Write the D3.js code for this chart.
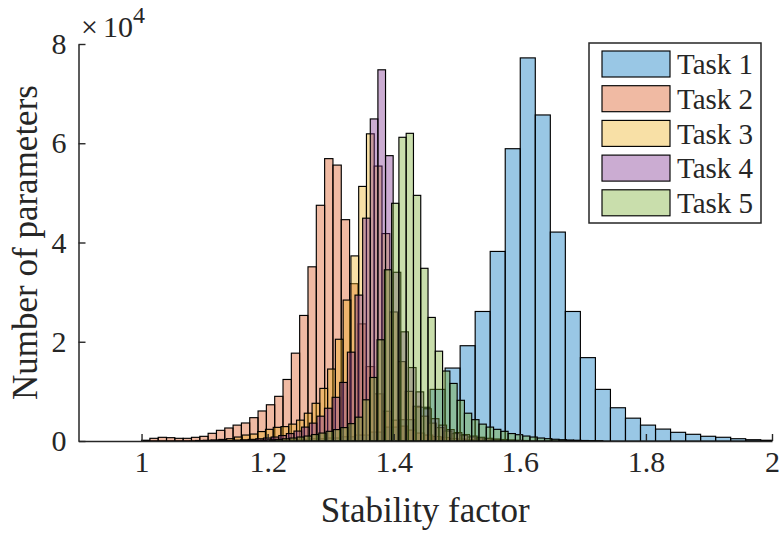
<!DOCTYPE html>
<html>
<head>
<meta charset="utf-8">
<script src="https://cdn.jsdelivr.net/npm/d3@7"></script>
<style>
body { margin: 0; background: #fff; }
text { font-family: "Liberation Serif", "Times New Roman", serif; fill: #262626; }
</style>
</head>
<body>
<script>
// histogram counts per task, each with its own bin start and bin width
var taskNames = ["Task 1", "Task 2", "Task 3", "Task 4", "Task 5"];
var taskColors = ["#0072BD", "#D95319", "#EDB120", "#7E2F8E", "#77AC30"];

var task1Start = 1.0047, task1Width = 0.02384;
var task1Counts = [20, 30, 40, 50, 70, 90, 120, 160, 200, 260, 340, 450, 600, 850, 1200, 1800, 2800, 4300, 6800, 10400,
  14700, 19200, 26100, 38200, 58900, 77200, 65700, 42100, 26100, 16800, 10400, 6700, 4600, 3200, 2400, 1750, 1350, 950, 750, 460, 260, 150];

var task2Start = 1.0, task2Width = 0.0132;
var task2Counts = [150, 540, 740, 670, 540, 540, 740, 940, 1550, 2150, 2620, 3200, 3630, 4700, 6050, 7300, 9000, 12400, 17700, 25300,
  35100, 47500, 56900, 55600, 44600, 31700, 23600, 15000, 9500, 6000, 4200, 3000, 2200, 1600, 1200, 900, 700, 500, 400, 300, 220, 160, 120, 80, 50];

var task3Start = 1.0857, task3Width = 0.01232;
var task3Counts = [100, 150, 220, 320, 470, 800, 1200, 1400, 1900, 2350, 2750, 2900, 3400, 4200, 5600, 7600, 10600, 14500, 20500, 28400, 37300, 51300,
  61900, 55400, 41800, 26000, 16000, 10000, 7000, 5000, 3600, 2700, 2000, 1500, 1100, 800, 600, 450, 300, 200, 150, 100];

var task4Start = 1.1087, task4Width = 0.0121;
var task4Counts = [50, 80, 120, 170, 240, 330, 450, 600, 800, 1100, 1500, 2000, 2800, 3600, 5000, 6600, 8800, 11800, 17900, 29400, 44900, 64900,
  74800, 57500, 34000, 22000, 14800, 9900, 6500, 4500, 3200, 2300, 1700, 1300, 1000, 750, 550, 400, 300, 200, 150, 100];

var task5Start = 1.1541, task5Width = 0.01155;
var task5Counts = [50, 80, 120, 170, 240, 330, 450, 600, 800, 1000, 1300, 1600, 1950, 2300, 2700, 3500, 4800, 8300, 12800, 20400, 34500, 47900,
  61200, 62000, 49500, 34800, 24900, 18100, 14100, 11600, 8200, 5600, 4300, 3400, 2800, 2350, 1950, 1500, 1270, 1000, 800, 600, 470, 350, 260, 200, 150, 100, 70, 50];

var xTicks = [1, 1.2, 1.4, 1.6, 1.8, 2];
var yTicks = [0, 20000, 40000, 60000, 80000];

var tasks = [
  {start: task1Start, width: task1Width, counts: task1Counts},
  {start: task2Start, width: task2Width, counts: task2Counts},
  {start: task3Start, width: task3Width, counts: task3Counts},
  {start: task4Start, width: task4Width, counts: task4Counts},
  {start: task5Start, width: task5Width, counts: task5Counts}
];

var W = 779, H = 533;
var m = {left: 78.5, right: 772, top: 44, bottom: 441};

var svg = d3.select("body").append("svg")
  .attr("width", W)
  .attr("height", H);

var x = d3.scaleLinear().domain([0.9, 2]).range([m.left, m.right]);
var y = d3.scaleLinear().domain([0, 80000]).range([m.bottom, m.top]);

svg.append("clipPath").attr("id", "plot")
  .append("rect")
  .attr("x", m.left).attr("y", 0)
  .attr("width", m.right - m.left).attr("height", m.bottom);

var bars = svg.append("g").attr("clip-path", "url(#plot)");

tasks.forEach(function(t, k){
  var bins = t.counts.map(function(c, i){
    return {x0: t.start + i * t.width, x1: t.start + (i + 1) * t.width, n: c};
  });
  bars.append("g").selectAll("rect")
    .data(bins)
    .enter().append("rect")
    .attr("x", function(d) { return x(d.x0); })
    .attr("width", function(d) { return x(d.x1) - x(d.x0); })
    .attr("y", function(d) { return y(d.n); })
    .attr("height", function(d) { return m.bottom - y(d.n); })
    .attr("fill", taskColors[k])
    .attr("fill-opacity", 0.4)
    .attr("stroke", "#000")
    .attr("stroke-width", 1.15);
});

// axes, ticks pointing inwards like matlab
svg.append("g")
  .attr("transform", "translate(0," + m.bottom + ")")
  .call(d3.axisBottom(x).tickValues(xTicks).tickFormat(function(d) { return String(d); })
    .tickSizeInner(-7).tickSizeOuter(0).tickPadding(10));

svg.append("g")
  .attr("transform", "translate(" + m.left + ",0)")
  .call(d3.axisLeft(y).tickValues(yTicks).tickFormat(function(d) { return d / 10000; })
    .tickSizeInner(-7).tickSizeOuter(0).tickPadding(12));

svg.selectAll(".domain").attr("stroke", "#262626").attr("stroke-width", 1.5);
svg.selectAll(".tick line").attr("stroke", "#262626").attr("stroke-width", 1.4);
svg.selectAll(".tick text")
  .style("font-family", "Liberation Serif, serif")
  .style("font-size", "30px")
  .attr("fill", "#262626");

var mult = svg.append("text")
  .attr("x", 81)
  .attr("y", 37)
  .style("font-size", "30px");
mult.append("tspan").text("\u00d7");
mult.append("tspan").attr("dx", 5).text("10");
mult.append("tspan").attr("dy", -14).style("font-size", "24px").text("4");

svg.append("text")
  .attr("transform", "rotate(-90)")
  .attr("x", -(m.top + m.bottom) / 2)
  .attr("y", 37)
  .attr("text-anchor", "middle")
  .style("font-size", "35px")
  .text("Number of parameters");

svg.append("text")
  .attr("x", (m.left + m.right) / 2)
  .attr("y", 522)
  .attr("text-anchor", "middle")
  .style("font-size", "35px")
  .text("Stability factor");

// legend
var legend = svg.append("g");
legend.append("rect")
  .attr("x", 589).attr("y", 43)
  .attr("width", 172).attr("height", 180)
  .attr("fill", "#fff")
  .attr("stroke", "#262626")
  .attr("stroke-width", 1.5);

taskNames.forEach(function(name, i){
  var ly = 51 + i * 34.7;
  legend.append("rect")
    .attr("x", 602).attr("y", ly)
    .attr("width", 68).attr("height", 26)
    .attr("fill", taskColors[i])
    .attr("fill-opacity", 0.4)
    .attr("stroke", "#000")
    .attr("stroke-width", 1.15);
  legend.append("text")
    .attr("x", 677)
    .attr("y", ly + 13)
    .attr("dy", "0.35em")
    .style("font-size", "29px")
    .text(name);
});
</script>
</body>
</html>
